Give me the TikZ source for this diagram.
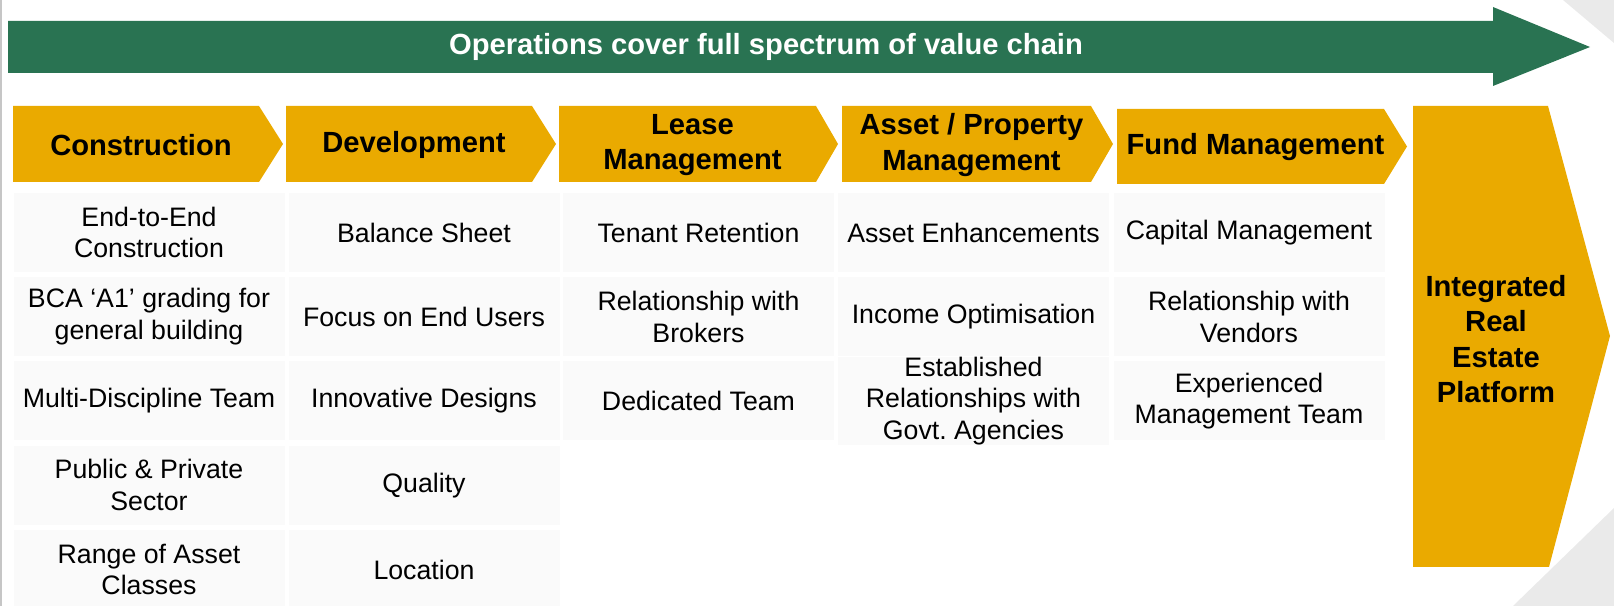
\documentclass[tikz,border=0pt]{standalone}
\usepackage{fontspec}
\setmainfont{Liberation Sans}
\usepackage{tikz}

\definecolor{chaingreen}{RGB}{41,115,82}
\definecolor{gold}{RGB}{234,170,0}
\definecolor{cellgray}{RGB}{250,250,250}
\definecolor{cornergray}{RGB}{234,234,234}

\newcommand\cellfont{\fontsize{7.6}{9}\selectfont}
\newcommand\headfont{\fontsize{8.3}{10.1}\selectfont\bfseries}

\begin{document}
\begin{tikzpicture}
[
	            x = 0.1mm,
	            y = -0.1mm,
	   cell/.style = { fill=cellgray, minimum width=27.1mm, minimum height=7.9mm,
	                   inner sep=0pt, align=center, font=\cellfont },
	headtext/.style = { align=center, font=\headfont, inner sep=0pt }
]
	\useasboundingbox (0,0) rectangle (1614,606);

	% slide decoration
	\fill [cornergray] (1563,0) -- (1614,0) -- (1614,43) -- cycle;
	\fill [cornergray] (1513,606) -- (1614,508) -- (1614,606) -- cycle;
	\draw [gray!45, line width=0.2mm] (1,0) -- (1,606);

	% value chain arrow
	\fill [chaingreen] (8,21) -- (1493,21) -- (1493,7) -- (1590,47)
		-- (1493,86) -- (1493,73) -- (8,73) -- cycle;
	\node (chain) at (766,47) [headtext, text=white]
		{Operations cover full spectrum of value chain};

	% stage chevrons: name / left / notch / tip / top / bottom / text
	\foreach \name/\xa/\xb/\xc/\ya/\yb/\txt in {
			cons/13/259/283/106/182/{Construction},
			dev/286/532/556/106/182/{Development},
			lease/559/816/838/106/182/{Lease\\Management},
			asset/842/1091/1113/106/182/{Asset / Property\\Management},
			fund/1117/1384/1407/109/184/{Fund Management}}
	{
		\fill [gold] (\xa,\ya) -- (\xb,\ya) -- (\xc,{(\ya+\yb)/2})
			-- (\xb,\yb) -- (\xa,\yb) -- cycle;
		\node (\name) at ({(\xa+\xb)/2+5},{(\ya+\yb)/2+1}) [headtext] {\txt};
	}

	% platform chevron
	\fill [gold] (1413,106) -- (1548,106) -- (1610,336) -- (1549,567)
		-- (1413,567) -- cycle;
	\node (platform) at (1496,339) [headtext] {Integrated\\Real\\Estate\\Platform};

	% construction
	\node (cons1) at (149,232.5)  [cell] {End-to-End\\Construction};
	\node (cons2) at (149,316.75) [cell] {BCA `A1' grading for\\general building};
	\node (cons3) at (149,401)    [cell] {Multi-Discipline Team};
	\node (cons4) at (149,485.25) [cell] {Public \& Private\\Sector};
	\node (cons5) at (149,569.5)  [cell] {Range of Asset\\Classes};

	% development
	\node (dev1) at (424,232.5)  [cell] {Balance Sheet};
	\node (dev2) at (424,316.75) [cell] {Focus on End Users};
	\node (dev3) at (424,401)    [cell] {Innovative Designs};
	\node (dev4) at (424,485.25) [cell] {Quality};
	\node (dev5) at (424,569.5)  [cell] {Location};

	% lease management
	\node (lease1) at (698.5,232.5)  [cell] {Tenant Retention};
	\node (lease2) at (698.5,316.75) [cell] {Relationship with\\Brokers};
	\node (lease3) at (698.5,401)    [cell] {Dedicated Team};

	% asset / property management
	\node (asset1) at (973.5,232.5)  [cell] {Asset Enhancements};
	\node (asset2) at (973.5,316.75) [cell] {Income Optimisation};
	\node (asset3) at (973.5,401)    [cell] {Established\\Relationships with\\Govt.\ Agencies};

	% fund management
	\node (fund1) at (1249,232.5)  [cell] {Capital Management};
	\node (fund2) at (1249,316.75) [cell] {Relationship with\\Vendors};
	\node (fund3) at (1249,401)    [cell] {Experienced\\Management Team};

\end{tikzpicture}
\end{document}
